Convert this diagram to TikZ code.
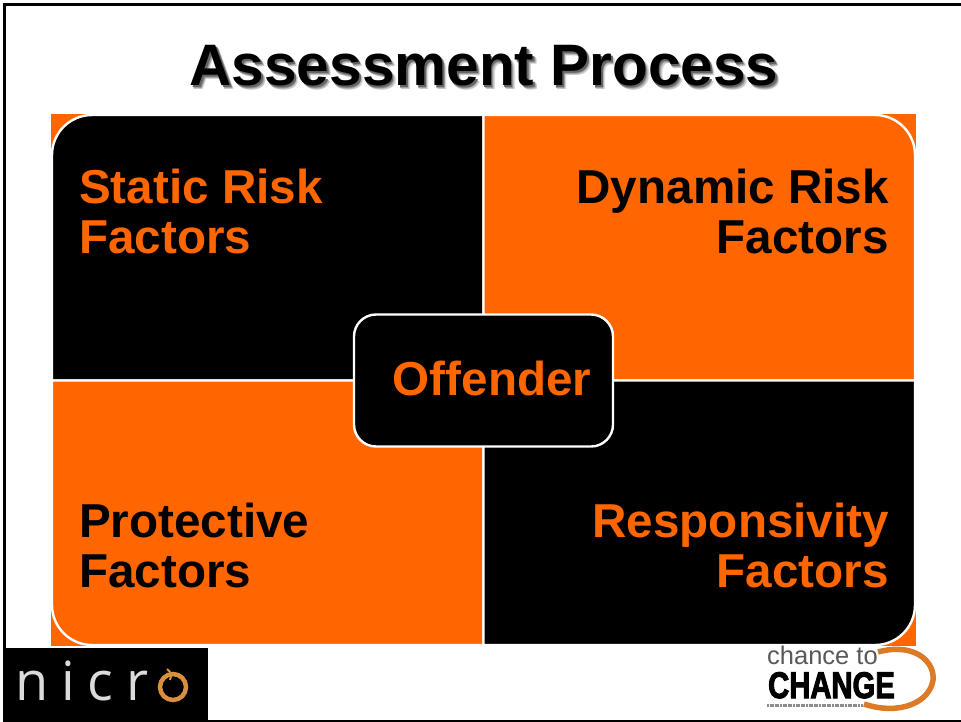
\documentclass[tikz,border=0pt]{standalone}
\usepackage{fontspec}
\setmainfont{Liberation Sans}
\newfontfamily\nicrofont{Open Sans}
\newfontfamily\heavyfont[FakeBold=3]{Liberation Sans Bold}
\definecolor{orng}{HTML}{FF6600}
\definecolor{ringa}{HTML}{D98F3C}
\definecolor{ringb}{HTML}{DD7A25}
\tikzset{
  x=1pt,y=-1pt,
  quad/.style={draw=white,line width=2.4pt},
  lab/.style={font=\bfseries\fontsize{47.6}{50}\selectfont,inner sep=0pt},
  ttl/.style={font=\bfseries\fontsize{58.5}{60}\selectfont,inner sep=0pt},
}
\begin{document}
\begin{tikzpicture}
\useasboundingbox (0,0) rectangle (961,722);
\fill[white] (0,0) rectangle (961,722);
% slide frame
\fill[black] (3,3) rectangle (961,6);
\fill[black] (3,3) rectangle (6,650);
\fill[black] (208,720) rectangle (961,722);
% title
\foreach \o/\c in {4/12,3.2/22,2.4/38,1.6/60}{
  \node[ttl,text=black!\c!white,anchor=base] at (484+\o,86+\o) {Assessment Process};
}
\node[ttl,anchor=base] (title) at (484,86) {Assessment Process};
% matrix
\fill[orng] (51,114) rectangle (916,646);
\draw[quad,fill=black] (483.5,115) [rounded corners=40pt] -- (52,115) [sharp corners] -- (52,380.5) -- (483.5,380.5) -- cycle;
\draw[quad,fill=orng] (483.5,115) [rounded corners=40pt] -- (915,115) [sharp corners] -- (915,380.5) -- (483.5,380.5) -- cycle;
\draw[quad,fill=orng] (483.5,645) [rounded corners=40pt] -- (52,645) [sharp corners] -- (52,380.5) -- (483.5,380.5) -- cycle;
\draw[quad,fill=black] (483.5,645) [rounded corners=40pt] -- (915,645) [sharp corners] -- (915,380.5) -- (483.5,380.5) -- cycle;
\node[lab,text=orng,anchor=base west] (s1) at (79,204) {Static Risk};
\node[lab,text=orng,anchor=base west] (s2) at (79,254) {Factors};
\node[lab,anchor=base east] (d1) at (889,204) {Dynamic Risk};
\node[lab,anchor=base east] (d2) at (889,254) {Factors};
\node[lab,anchor=base west] (p1) at (79,537) {Protective};
\node[lab,anchor=base west] (p2) at (79,587) {Factors};
\node[lab,text=orng,anchor=base east] (r1) at (889,537) {Responsivity};
\node[lab,text=orng,anchor=base east] (r2) at (889,587) {Factors};
% centre
\draw[quad,fill=black,rounded corners=22pt] (354,314.5) rectangle (613,446.5);
\node[lab,text=orng,anchor=base] (off) at (492,395) {Offender};
% nicro
\fill[black] (3,648) rectangle (208,722);
\node[font=\nicrofont\fontsize{54}{54}\selectfont,text=black!14,anchor=base west,inner sep=0pt] (nicro) at (15,700) {n\hspace{13pt}i\hspace{13pt}c\hspace{13pt}r};
\draw[ringa,line width=4.5pt] (173,687) circle[radius=13];
\draw[ringa,line width=2pt] (167,669) .. controls (171,672) and (172,675) .. (170,680);
% chance
\draw[ringb,line width=5.5pt] (878,652) .. controls (915,642) and (935,662) .. (933,680) .. controls (930,702) and (900,716) .. (864,704);
\node[font=\fontsize{25.5}{25.5}\selectfont,text=black!65,anchor=base west,inner sep=0pt] (c1) at (767,664) {chance to};
\node[font=\heavyfont\fontsize{37}{37}\selectfont,anchor=base west,inner sep=0pt,xscale=.79,transform shape] (c2) at (768,698) {CHANGE};
\draw[black!45,line width=3pt,dash pattern=on 2pt off 0.6pt] (767,705.5) -- (863,705.5);
\end{tikzpicture}
\end{document}
